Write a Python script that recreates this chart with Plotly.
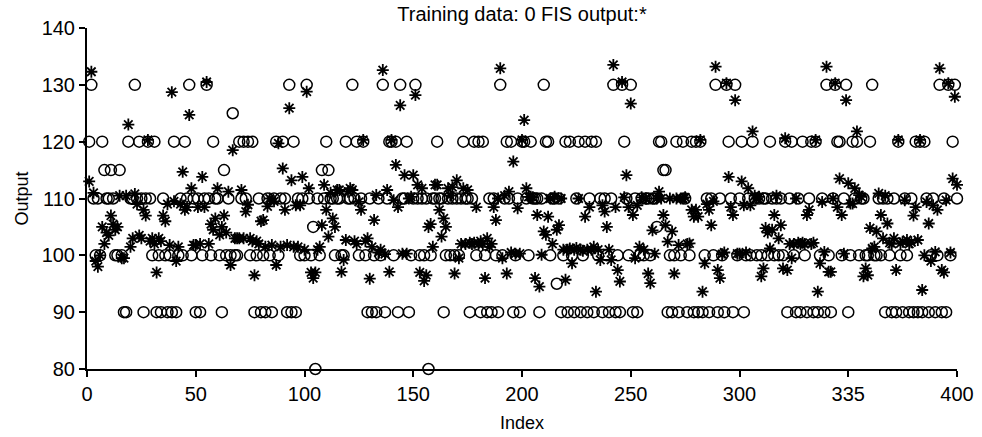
import plotly.graph_objects as go

# Index of each sample
index = list(range(1, 401))

# Training data (circles)
training = [
    120,130,110,100,110,100,120,115,110,110, 115,110,100,100,115,100,90,90,120,110,
    110,130,110,120,110,90,110,120,110,100, 120,90,100,90,110,100,90,100,90,120,
    90,100,110,100,120,110,130,100,110,90, 110,90,100,110,130,110,100,120,110,110,
    100,90,115,100,110,100,125,100,100,120, 110,120,110,120,100,120,90,100,110,90,
    100,90,110,100,90,110,120,100,110,120, 110,90,130,90,120,90,110,100,110,100,
    130,110,100,105,80,110,100,115,110,120, 115,110,110,100,110,110,100,100,120,110,
    110,130,110,120,100,110,120,100,90,110, 90,100,90,110,100,130,90,110,120,120,
    100,120,90,130,110,110,120,90,100,110, 130,110,100,110,100,110,80,100,110,110,
    120,110,110,90,100,110,100,110,100,110, 100,110,120,110,110,90,110,120,100,120,
    90,120,100,90,110,90,110,100,90,130, 100,110,120,110,120,90,100,110,90,120,
    120,110,100,120,110,110,110,90,110,130, 120,120,100,110,110,95,110,90,100,120,
    90,120,100,90,110,120,90,100,120,90, 110,120,90,120,100,110,90,110,100,90,
    110,130,90,100,90,130,120,110,100,130, 90,110,90,100,110,100,110,110,100,110,
    110,105,120,120,115,115,90,100,90,100, 120,90,100,120,110,90,100,120,90,120,
    90,120,90,100,110,90,110,100,130,90, 110,100,90,130,120,110,90,130,100,110,
    120,90,100,110,100,120,110,100,110,100, 110,110,100,120,110,100,110,100,110,100,
    120,90,110,120,100,90,110,90,120,100, 90,110,120,90,120,90,100,110,90,130,
    100,90,110,130,120,120,100,110,130,90, 100,120,110,120,100,110,110,100,100,120,
    130,100,100,110,100,110,90,110,100,90, 110,90,120,100,90,110,100,90,110,90,
    120,90,120,90,120,110,90,100,110,90, 100,130,90,110,90,130,100,120,130,110,
]

# FIS output (asterisks)
fis_output = [
    113,132.3,111,99,98,100,105,102,104,103.5, 107,105.5,104.5,105,110.5,99.5,99.5,110.5,123,101.5,
    103,110.8,109,103.5,103,108,107,120.3,102.5,103, 102,97,103,102.5,107,106,109,101.8,128.7,109.5,
    99,101.5,109,114.7,108,108.5,124.7,111.8,101.8,101.8, 108.5,102,113.8,108.5,130.5,102,105.5,104.5,106.5,111.8,
    103.6,105,107,104,111.2,98.3,118.5,103,103,103, 111.5,103,107.7,108.9,103,102.5,96.5,102.5,102,106,
    106.2,101.5,108.6,110,101.8,109.5,98.3,119.7,101.5,115.3, 108,101.8,125.9,113.2,101.5,108.8,101.5,108.8,113.8,101,
    128.8,111.8,97,96,97,101,101.5,105.3,112.4,108, 103.3,111,106.5,105,111.5,111.5,97.1,99.2,102.7,111.2,
    111.8,111.5,102.5,102,109.4,108,120.3,102.5,103,95.9, 101.5,106.2,110.6,100.5,101,132.6,100.2,111.5,97.1,120.3,
    109.7,115.9,108.5,126.4,100.3,114.1,100.3,110,110.3,114.1, 128.2,112.4,97,111.8,95.5,96.5,105,105.5,101.5,112.4,
    112.4,108,103.3,106.5,105,111.8,110.5,112,96.8,113.2, 99.5,102,111.8,102,111.5,102.2,102,102.2,108.5,102,
    102.5,102,96,103,101.5,102,108.5,106.2,110,132.9, 99.5,110.5,96.8,111.2,100.5,116.5,100.3,108.3,100.3,120.3,
    123.8,111.8,110.3,110.3,110.2,96,107.1,94.5,100.1,104.2, 103.6,106.8,110,102,110.3,104.5,105.3,110,101,95.7,
    101,101.2,98.6,101,101.3,110,101,100.8,106.8,101, 108.5,101,101.5,93.6,101,99.2,108.8,107.7,105,101,
    99.2,133.5,108.5,97.4,95.4,130.5,110.2,114.1,108.5,126.7, 107.1,99.5,108.8,101.5,110.2,101,110,96.8,95.1,104.4,
    100.3,110,111.2,110,107.1,105.3,102.4,110,104.2,96.8, 110,101.8,110,110,110.2,102,102.1,108,106.8,108,
    106.8,120.3,93.6,98.6,109,108,105.3,109.5,133.2,97.4, 96,100.2,100.5,130.3,113.8,108.5,107.1,127.3,100.3,100.3,
    113,108.8,100.5,111.8,108.8,121.8,110.5,110,110.3,96.3, 97.7,104.8,104,101.2,104.5,107.1,110.5,103,105.3,97.7,
    120.6,97.4,102,99.5,102,110,102.2,102,102.2,102, 107.1,108,102,102.2,120.3,93.6,98.6,109.4,100.6,133.2,
    97.1,97.1,110,130.3,108.5,113.5,107.1,100.3,127.3,112.7, 109.1,109.1,111.8,121.8,110.6,110.3,96.3,97.7,96.5,104.8,
    101.2,101.5,104.2,110.9,107.1,103,110.5,105.6,102.2,102, 103,97.4,120.3,102.1,102.4,109.7,102.7,102,102.3,107,
    108.5,102.7,120.3,93.9,100,109.4,105.6,99,108.8,100.6, 108,132.9,97.4,97,109.7,130.3,100.5,113.5,127.9,112.4,
]

x_tick_vals = [0, 50, 100, 150, 200, 250, 300, 350, 400]
x_tick_text = ["0", "50", "100", "150", "200", "250", "300", "335", "400"]
y_tick_vals = [80, 90, 100, 110, 120, 130, 140]

assert len(training) == 400 and len(fis_output) == 400

font_family = "Liberation Sans, Arial, sans-serif"

fig = go.Figure()
fig.add_trace(go.Scatter(
    x=index, y=training, mode="markers", cliponaxis=False,
    marker=dict(symbol="circle-open", size=11, color="black",
                line=dict(width=1.5, color="black")),
    showlegend=False,
))
fig.add_trace(go.Scatter(
    x=index, y=fis_output, mode="markers", cliponaxis=False,
    marker=dict(symbol="asterisk-open", size=10, color="black",
                line=dict(width=1.8, color="black")),
    showlegend=False,
))

fig.update_layout(
    width=982, height=437,
    margin=dict(l=87, r=25, t=28, b=68, autoexpand=False),
    paper_bgcolor="white", plot_bgcolor="white",
    font=dict(family=font_family, size=18, color="black"),
    title=dict(text="Training data: 0 FIS output:*", x=0.5, xref="paper",
               xanchor="center", y=1 - 14 / 437, yref="container", yanchor="middle",
               font=dict(size=20, family=font_family, color="black")),
)
fig.update_xaxes(
    range=[0, 400], tickvals=x_tick_vals, ticktext=x_tick_text,
    showline=True, linecolor="black", linewidth=2,
    ticks="outside", ticklen=6, tickwidth=1.5, tickcolor="black",
    showgrid=False, zeroline=False, automargin=False,
    title=dict(text="Index", standoff=12, font=dict(size=18)),
    tickfont=dict(size=20),
)
fig.update_yaxes(
    range=[80, 140], tickvals=y_tick_vals,
    showline=True, linecolor="black", linewidth=2,
    ticks="outside", ticklen=6, tickwidth=1.5, tickcolor="black",
    showgrid=False, zeroline=False, automargin=False,
    title=dict(text="Output", standoff=8, font=dict(size=18)),
    tickfont=dict(size=20),
)

fig.write_html(
    "out.html",
    config={"displayModeBar": False},
    post_script="document.body.style.margin='0';document.body.style.overflow='hidden';",
)
